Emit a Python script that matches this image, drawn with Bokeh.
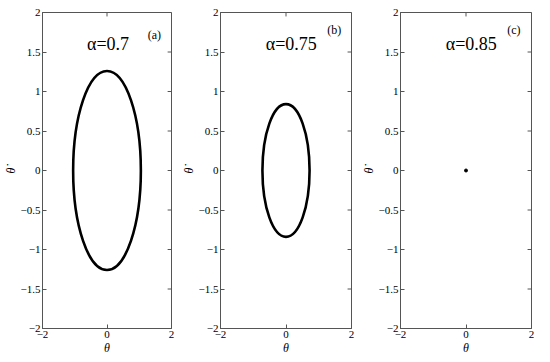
from bokeh.plotting import figure
from bokeh.layouts import row
from bokeh.models import FixedTicker, Range1d
from bokeh.embed import file_html
from bokeh.resources import INLINE

# ---- data ----
alpha_labels = ["\u03b1=0.7", "\u03b1=0.75", "\u03b1=0.85"]
panel_tags = ["(a)", "(b)", "(c)"]
semi_theta = [1.05, 0.72, 0.0]        # half-width of orbit along theta
semi_thetadot = [1.26, 0.84, 0.0]     # half-height of orbit along theta-dot
center_theta = [0.0, 0.0, 0.0]
center_thetadot = [0.0, 0.0, 0.0]
x_ticks = [-2, 0, 2]
y_ticks = [-2, -1.5, -1, -0.5, 0, 0.5, 1, 1.5, 2]
tag_y = [1.72, 1.78, 1.78]
x_max, y_max = 2, 2

FONT = "Liberation Serif"
AX_COL = "#555555"

widths = [178, 180, 176]
lefts = [36, 36, 36]
rights = [7, 7, 3]

figs = []
for i in range(3):
    p = figure(width=widths[i], frame_height=316, output_backend="svg",
               toolbar_location=None, x_range=Range1d(-2, 2), y_range=Range1d(-2, 2),
               min_border_left=lefts[i], min_border_right=rights[i],
               min_border_top=12, min_border_bottom=20)
    p.grid.visible = False
    p.outline_line_color = AX_COL
    p.outline_line_width = 1
    p.background_fill_color = "white"
    p.border_fill_color = "white"

    for ax in (p.xaxis[0], p.yaxis[0]):
        ax.major_tick_in = 4
        ax.major_tick_out = 0
        ax.minor_tick_in = 0
        ax.minor_tick_out = 0
        ax.minor_tick_line_color = None
        ax.axis_line_color = AX_COL
        ax.major_tick_line_color = AX_COL
        ax.major_label_text_font = FONT
        ax.major_label_text_font_size = "11px"
        ax.major_label_text_color = "black"
        ax.major_label_standoff = 2
        ax.axis_label_text_font = FONT
        ax.axis_label_text_font_style = "italic"
        ax.axis_label_text_font_size = "12px"
        ax.axis_label_text_color = "black"
        ax.axis_label_standoff = 0
    p.xaxis[0].ticker = FixedTicker(ticks=x_ticks)
    p.yaxis[0].ticker = FixedTicker(ticks=y_ticks)
    p.xaxis[0].axis_label = "\u03b8"
    p.yaxis[0].axis_label = "\u03b8\u0307"

    # mirrored tick marks on the right and top edges (from the tick lists)
    p.segment(x0=[x_max] * len(y_ticks), y0=y_ticks,
              x1=[x_max - 0.12] * len(y_ticks), y1=y_ticks,
              line_color=AX_COL, line_width=1)
    p.segment(x0=x_ticks, y0=[y_max] * len(x_ticks),
              x1=x_ticks, y1=[y_max - 0.05] * len(x_ticks),
              line_color=AX_COL, line_width=1)

    if semi_theta[i] > 0:
        p.ellipse(x=[center_theta[i]], y=[center_thetadot[i]],
                  width=[2 * semi_theta[i]], height=[2 * semi_thetadot[i]],
                  fill_color=None, line_color="black", line_width=2.6)
    else:
        p.scatter(x=[center_theta[i]], y=[center_thetadot[i]], size=3,
                  color="black")

    p.text(x=[-0.62], y=[1.6], text=[alpha_labels[i]], text_font=FONT,
           text_font_size="18px", text_align="left", text_baseline="alphabetic",
           text_color="black")
    p.text(x=[1.26], y=[tag_y[i]], text=[panel_tags[i]], text_font=FONT,
           text_font_size="12px", text_align="left", text_baseline="alphabetic",
           text_color="black")
    figs.append(p)

layout = row(*figs, spacing=0)
open("out.html", "w").write(file_html(layout, INLINE))
